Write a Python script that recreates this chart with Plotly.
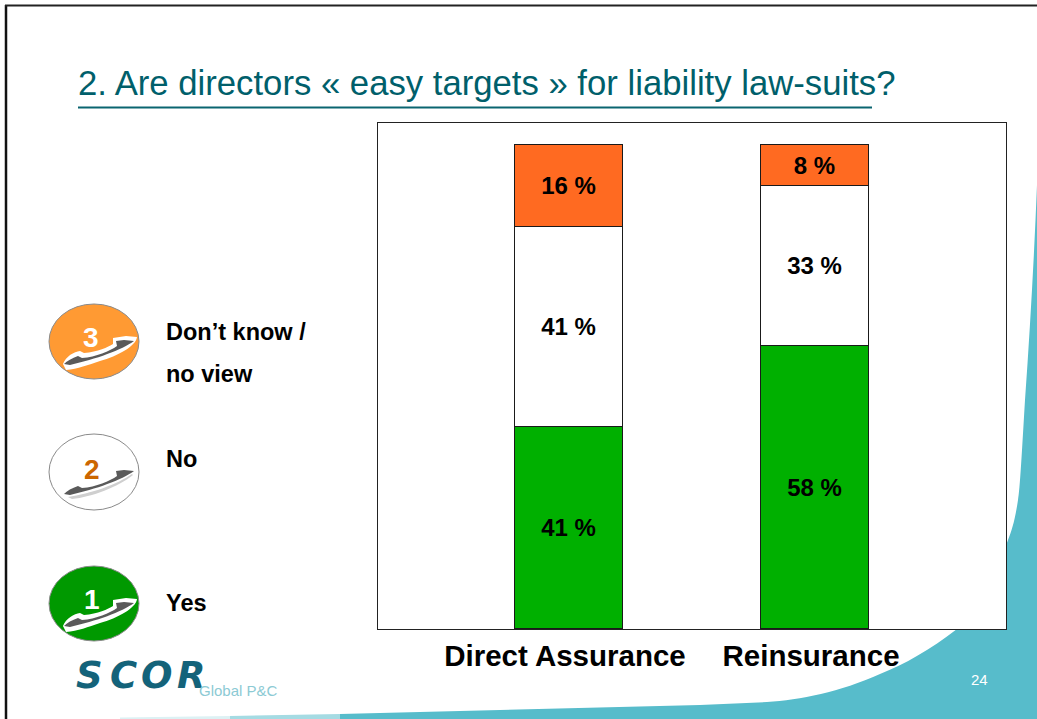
import plotly.graph_objects as go

W, H = 1037, 719
categories = ["Direct Assurance", "Reinsurance"]
yes_values = [41.1, 57.6]
no_values = [40.66, 32.5]
dontknow_values = [16.7, 8.3]
yes_labels = ["41 %", "58 %"]
no_labels = ["41 %", "33 %"]
dontknow_labels = ["16 %", "8 %"]

TEAL = "#57BCCB"
TITLE = "#005F6B"
FONT = "Liberation Sans, Arial, sans-serif"

fig = go.Figure()
for vals, labs, col, name in [
    (yes_values, yes_labels, "#00B000", "Yes"),
    (no_values, no_labels, "#FFFFFF", "No"),
    (dontknow_values, dontknow_labels, "#FF6A21", "Don’t know / no view"),
]:
    fig.add_bar(x=categories, y=vals, name=name, text=labs, width=0.439,
                marker=dict(color=col, line=dict(color="#1a1a1a", width=1)),
                texttemplate="<b>%{text}</b>",
                textposition="inside", insidetextanchor="middle", textangle=0,
                insidetextfont=dict(family=FONT, size=24, color="#000000"),
                showlegend=False, hoverinfo="skip")


def px(x):
    return x / W


def py(y):
    return 1 - y / H


def path(cmds):
    """cmds: list of (letter, x, y, ...) in window pixels -> paper coordinates path."""
    out = []
    for c in cmds:
        coords = c[1:]
        parts = []
        for i in range(0, len(coords), 2):
            parts.append(f"{px(coords[i]):.5f},{py(coords[i + 1]):.5f}")
        out.append(c[0] + " ".join(parts))
    return " ".join(out) + " Z"


shapes = []


def add_path(cmds, fill, line=None, width=0):
    shapes.append(dict(type="path", xref="paper", yref="paper", path=path(cmds),
                       fillcolor=fill, layer="below",
                       line=dict(color=line or fill, width=width)))


# swoosh background
add_path([("M", 1037, 185), ("C", 1034, 260, 1030, 330, 1025, 400),
          ("C", 1022, 450, 1020, 490, 1018, 500),
          ("C", 1015, 520, 1012, 530, 1008, 540),
          ("C", 996, 575, 980, 605, 957, 629),
          ("C", 930, 650, 905, 664, 880, 674),
          ("C", 840, 692, 800, 700, 767, 702),
          ("L", 700, 705), ("L", 340, 714), ("L", 340, 719), ("L", 1037, 719)], TEAL)
add_path([("M", 340, 714), ("L", 230, 716), ("L", 230, 719), ("L", 340, 719)], "#A5DBE3")
add_path([("M", 230, 716), ("L", 120, 717.5), ("L", 120, 719), ("L", 230, 719)], "#DDF1F4")
# white plot area covering the swoosh
shapes.append(dict(type="rect", xref="paper", yref="paper", x0=px(378), x1=px(1006),
                   y0=py(629), y1=py(123), fillcolor="#FFFFFF", layer="below",
                   line=dict(width=0)))
# slide frame
shapes.append(dict(type="line", xref="paper", yref="paper", x0=px(6), x1=px(6), y0=py(5), y1=0,
                   line=dict(color="#111111", width=2.5), layer="below"))
shapes.append(dict(type="line", xref="paper", yref="paper", x0=px(5), x1=1, y0=py(5.5), y1=py(5.5),
                   line=dict(color="#222222", width=2), layer="below"))
# title rule
shapes.append(dict(type="line", xref="paper", yref="paper", x0=px(78), x1=px(872), y0=py(107.5), y1=py(107.5),
                   line=dict(color="#0A6570", width=2), layer="below"))

# legend badges
for top, bottom, fill, line in [(304, 379, "#FF9A33", "#8a8a8a"),
                                (434, 510, "#FFFFFF", "#8a8a8a"),
                                (566, 641, "#009900", "#8a8a8a")]:
    shapes.append(dict(type="circle", xref="paper", yref="paper", x0=px(49), x1=px(139),
                       y0=py(bottom), y1=py(top), fillcolor=fill, layer="below",
                       line=dict(color=line, width=1)))


def phone(dy, halo):
    if halo:
        add_path([("M", 63, 364 + dy), ("C", 66, 356 + dy, 74, 352 + dy, 80, 351 + dy),
                  ("L", 84, 353 + dy), ("C", 98, 352 + dy, 108, 347 + dy, 113, 344 + dy),
                  ("L", 113, 338 + dy), ("L", 126, 336 + dy), ("L", 137, 337 + dy),
                  ("C", 136, 346 + dy, 118, 356 + dy, 100, 361 + dy),
                  ("C", 88, 365 + dy, 78, 369 + dy, 66, 370 + dy)], "#FFFFFF")
    else:
        add_path([("M", 68, 367 + dy), ("C", 90, 364 + dy, 118, 354 + dy, 132, 344 + dy),
                  ("L", 133, 345 + dy), ("C", 118, 357 + dy, 92, 367 + dy, 72, 369 + dy)], "#CFCFCF")
    add_path([("M", 64, 364 + dy), ("C", 67, 361 + dy, 72, 358 + dy, 78, 356 + dy),
              ("L", 82, 358 + dy), ("C", 96, 357 + dy, 110, 351 + dy, 117, 346 + dy),
              ("L", 116, 341 + dy), ("L", 124, 340 + dy), ("L", 134, 341 + dy),
              ("C", 122, 350 + dy, 96, 359 + dy, 70, 365 + dy)], "#5A5A5A")


phone(0, True)
phone(130, False)
phone(262, True)

anns = []


def text(s, x, y, size, color="#000000", bold=False, anchor="left", family=FONT, italic=False):
    if bold:
        s = f"<b>{s}</b>"
    if italic:
        s = f"<i>{s}</i>"
    anns.append(dict(text=s, x=px(x), y=py(y), xref="paper", yref="paper", showarrow=False,
                     xanchor=anchor, yanchor="middle", align="left",
                     font=dict(family=family, size=size, color=color)))


text("2. Are directors « easy targets » for liability law-suits?", 76, 83, 34.7, TITLE)
text("Don’t know /", 164, 332, 23.5, bold=True)
text("no view", 164, 374, 23.5, bold=True)
text("No", 164, 459, 23.5, bold=True)
text("Yes", 164, 603, 23.5, bold=True)
text("3", 91, 337, 28, "#FFFFFF", True, "center")
text("2", 92, 469, 28, "#CC6600", True, "center")
text("1", 92, 599, 28, "#FFFFFF", True, "center")
text("24", 979, 679, 15, "#FFFFFF", anchor="center")
for ch, x in [("S", 74), ("C", 108), ("O", 139), ("R", 175)]:
    text(ch, x, 675, 37, "#14637A", True, family="DejaVu Sans", italic=True)
text("Global P&C", 197, 690, 15, "#8CCAD4")

fig.update_layout(
    width=W, height=H, autosize=False, margin=dict(l=0, r=0, t=0, b=0),
    barmode="stack", bargap=0,
    paper_bgcolor="#FFFFFF", plot_bgcolor="rgba(0,0,0,0)",
    shapes=shapes, annotations=anns,
    xaxis=dict(domain=[px(378), px(1006)], range=[-0.776, 1.776], type="category",
               showgrid=False, zeroline=False, showline=True, mirror=True, linecolor="#222222",
               linewidth=1, ticks="", ticklabelstandoff=1, ticklabelshift=-4,
               tickfont=dict(family=FONT, size=29.5, color="#000000"),
               tickprefix="<b>", ticksuffix="</b>"),
    yaxis=dict(domain=[py(629), py(123)], range=[0, 102.9], showgrid=False, zeroline=False,
               showline=True, mirror=True, linecolor="#222222", linewidth=1,
               showticklabels=False, ticks=""),
)
fig.write_html("out.html", config={"displayModeBar": False},
               post_script="document.body.style.margin='0';document.documentElement.style.overflow='hidden';")
